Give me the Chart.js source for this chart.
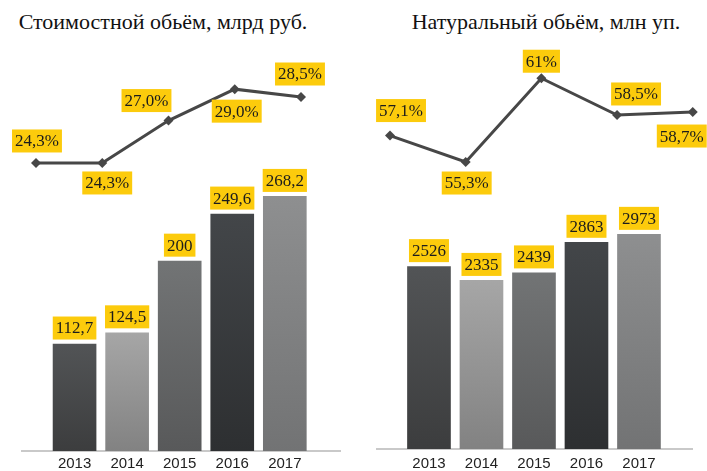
<!DOCTYPE html>
<html>
<head>
<meta charset="utf-8">
<script src="https://cdn.jsdelivr.net/npm/chart.js@4"></script>
<style>
  html, body { margin: 0; padding: 0; background: #fff; }
  #wrap { position: relative; width: 707px; height: 471px; overflow: hidden; }
  canvas { position: absolute; top: 0; }
  .title {
    position: absolute; top: 9px; transform: translateX(-50%);
    font-family: "Liberation Serif", serif; font-size: 22px; color: #111; white-space: nowrap;
  }
</style>
</head>
<body>
<div id="wrap">
  <div class="title" style="left:163px">Стоимостной обьём, млрд руб.</div>
  <div class="title" style="left:546px">Натуральный обьём, млн уп.</div>
  <canvas id="left" width="355" height="471" style="left:0"></canvas>
  <canvas id="right" width="352" height="471" style="left:355px"></canvas>
</div>
<script>
// данные
const years = ["2013", "2014", "2015", "2016", "2017"];
const valueBars = [112.7, 124.5, 200, 249.6, 268.2];
const valueShare = [24.3, 24.3, 27.0, 29.0, 28.5];
const volumeBars = [2526, 2335, 2439, 2863, 2973];
const volumeShare = [57.1, 55.3, 61, 58.5, 58.7];

// цвета столбцов (верх, низ)
const barShades = [
  ["#525456", "#3c3d3e"],
  ["#a6a6a6", "#828282"],
  ["#727475", "#58595a"],
  ["#434649", "#2d2f31"],
  ["#8e8f90", "#727374"]
];

const labelFont = '17px "Liberation Serif", "DejaVu Serif", serif';
const comma = v => String(v).replace(".", ",");

const yellowLabels = {
  id: "yellowLabels",
  afterDatasetsDraw(chart, args, opts) {
    const ctx = chart.ctx;
    ctx.save();
    ctx.font = labelFont;
    ctx.textAlign = "center";
    ctx.textBaseline = "middle";
    opts.sets.forEach((set, di) => {
      const meta = chart.getDatasetMeta(di);
      meta.data.forEach((el, i) => {
        const text = set.text[i];
        const [dx, dy] = set.offsets[i];
        const cx = el.x + dx, cy = el.y + dy;
        const w = ctx.measureText(text).width + 6, h = 23;
        ctx.fillStyle = "#fccb0c";
        ctx.fillRect(cx - w / 2, cy - h / 2, w, h);
        ctx.fillStyle = "#1c1c1c";
        ctx.fillText(text, cx, cy + 1);
      });
    });
    ctx.restore();
  }
};

function barFill(c) {
  const shade = barShades[c.dataIndex];
  const sc = c.chart.scales.y;
  if (!sc || !c.raw) return shade[0];
  const top = sc.getPixelForValue(c.raw.y);
  const bottom = sc.getPixelForValue(0);
  if (!isFinite(top) || !isFinite(bottom) || top === bottom) return shade[0];
  const g = c.chart.ctx.createLinearGradient(0, top, 0, bottom);
  g.addColorStop(0, shade[0]);
  g.addColorStop(1, shade[1]);
  return g;
}

function makePanel(id, bars, share, s) {
  new Chart(document.getElementById(id), {
    data: {
      datasets: [{
        type: "bar",
        data: bars.map((v, i) => ({ x: i, y: v })),
        xAxisID: "x", yAxisID: "y",
        grouped: false,
        barPercentage: 1,
        categoryPercentage: 1,
        maxBarThickness: 43,
        order: 2,
        backgroundColor: barFill
      }, {
        type: "line",
        data: share.map((v, i) => ({ x: i, y: v })),
        xAxisID: "x2", yAxisID: "y2",
        order: 1,
        borderColor: "#474747",
        borderWidth: 3,
        pointStyle: "rectRot",
        pointRadius: 5,
        pointBackgroundColor: "#474747",
        pointBorderWidth: 0,
        clip: false
      }]
    },
    options: {
      responsive: false,
      animation: false,
      layout: { padding: { left: 22, right: 15, top: 40, bottom: 0 } },
      plugins: {
        legend: { display: false },
        tooltip: { enabled: false },
        yellowLabels: {
          sets: [
            { text: bars.map(comma), offsets: bars.map(() => [0, -16]) },
            { text: share.map(s.fmt), offsets: s.offsets }
          ]
        }
      },
      scales: {
        x: {
          type: "linear", min: s.xMin, max: s.xMax, offset: false,
          grid: { display: false, drawTicks: false },
          border: { display: true, color: "#c9c9c9", width: 2 },
          afterBuildTicks: ax => { ax.ticks = years.map((y, i) => ({ value: i })); },
          afterFit: ax => { ax.height = s.axisH; },
          ticks: {
            callback: v => years[v],
            font: { family: "Liberation Sans", size: 15, lineHeight: 1 },
            color: "#222", padding: s.axisH - 15, maxRotation: 0, autoSkip: false
          }
        },
        x2: { type: "linear", display: false, offset: false, min: s.x2Min, max: s.x2Max },
        y: { display: false, min: 0, max: s.yMax },
        y2: { display: false, min: s.y2Min, max: s.y2Max }
      }
    },
    plugins: [yellowLabels]
  });
}

function drawAll() {
  makePanel("left", valueBars, valueShare, {
    axisH: 20,
    xMin: -1, xMax: 5.05, x2Min: -0.211, x2Max: 4.589,
    yMax: 433, y2Min: 5.96, y2Max: 32.13,
    fmt: v => v.toFixed(1).replace(".", ",") + "%",
    offsets: [[1, -22], [5, 20], [-22, -20], [2, 22], [-1, -23]]
  });

  makePanel("right", volumeBars, volumeShare, {
    axisH: 22,
    xMin: -0.99, xMax: 5.01, x2Min: -0.172, x2Max: 3.99,
    yMax: 5665, y2Min: 35.78, y2Max: 63.6,
    fmt: v => comma(v) + "%",
    offsets: [[11, -25], [1, 21], [0, -17], [19, -21], [-11, 24]]
  });
}

document.fonts.load(labelFont).then(drawAll, drawAll);
</script>
</body>
</html>
